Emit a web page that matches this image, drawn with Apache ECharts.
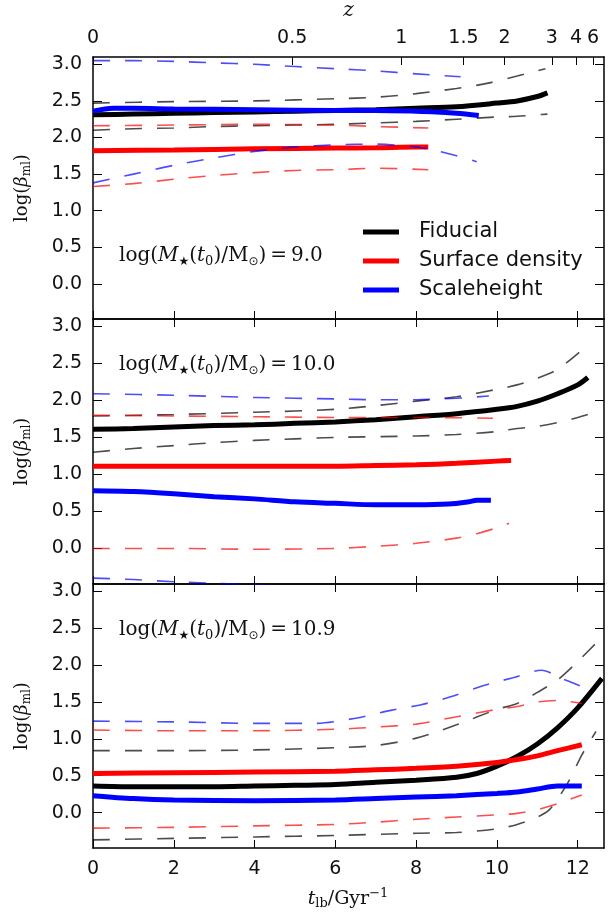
<!DOCTYPE html>
<html><head><meta charset="utf-8">
<script src="https://cdn.jsdelivr.net/npm/echarts@6/dist/echarts.min.js"></script>
<style>html,body{margin:0;padding:0;background:#fff}#c{width:608px;height:922px}</style>
</head><body><div id="c"></div>
<script>
// ---- tick labels ----
const tTicks = [0, 2, 4, 6, 8, 10, 12];
const yTicks = [0, 0.5, 1, 1.5, 2, 2.5, 3];
const zLabels = ['0', '0.5', '1', '1.5', '2', '3', '4', '6'];
const zPos = [0, 4.93, 7.63, 9.17, 10.19, 11.36, 11.96, 12.38];
const panelLabels = ['9.0', '10.0', '10.9'];
const legendNames = ['Fiducial', 'Surface density', 'Scaleheight'];

// ---- Panel 1: log(M*(t0)/Msun) = 9.0 ----
const p1_fid_t = [0, 1, 2, 3, 4, 5, 6, 7, 8, 9, 10, 10.5, 11, 11.25];
const p1_fid_y = [2.31, 2.32, 2.33, 2.34, 2.35, 2.36, 2.37, 2.38, 2.40, 2.42, 2.47, 2.50, 2.56, 2.61];
const p1_fidHi_t = [0, 2, 4, 6, 7, 8, 9, 9.75, 10.5, 11.2];
const p1_fidHi_y = [2.47, 2.49, 2.50, 2.53, 2.55, 2.60, 2.67, 2.74, 2.84, 2.94];
const p1_fidLo_t = [0, 1, 2, 3, 4, 5, 6, 7, 8, 9, 10, 10.5, 11, 11.25];
const p1_fidLo_y = [2.10, 2.12, 2.13, 2.15, 2.16, 2.17, 2.18, 2.20, 2.22, 2.25, 2.28, 2.29, 2.31, 2.32];
const p1_sd_t = [0, 2, 4, 6, 7, 8, 8.3];
const p1_sd_y = [1.82, 1.83, 1.845, 1.855, 1.86, 1.87, 1.87];
const p1_sdHi_t = [0, 2, 4, 6, 7, 8.3];
const p1_sdHi_y = [2.16, 2.17, 2.18, 2.17, 2.15, 2.13];
const p1_sdLo_t = [0, 1, 2, 3, 4, 5, 6, 7, 8.3];
const p1_sdLo_y = [1.33, 1.37, 1.43, 1.48, 1.52, 1.55, 1.56, 1.58, 1.56];
const p1_sh_t = [0, 0.5, 1, 2, 4, 6, 7, 8, 8.5, 9, 9.55];
const p1_sh_y = [2.36, 2.40, 2.40, 2.39, 2.38, 2.37, 2.37, 2.36, 2.35, 2.33, 2.30];
const p1_shHi_t = [0, 1, 2, 3, 4, 5, 6, 7, 8, 9.1];
const p1_shHi_y = [3.05, 3.05, 3.04, 3.02, 3.00, 2.97, 2.94, 2.91, 2.87, 2.83];
const p1_shLo_t = [0, 1, 2, 3, 4, 5, 6, 7, 8, 8.5, 9, 9.5];
const p1_shLo_y = [1.38, 1.50, 1.62, 1.72, 1.81, 1.87, 1.90, 1.91, 1.87, 1.82, 1.75, 1.67];

// ---- Panel 2: 10.0 ----
const p2_fid_t = [0, 1, 2, 3, 4, 5, 6, 7, 8, 9, 10, 10.5, 11, 11.5, 12, 12.25];
const p2_fid_y = [1.61, 1.62, 1.64, 1.66, 1.67, 1.69, 1.71, 1.74, 1.78, 1.82, 1.88, 1.92, 1.99, 2.09, 2.21, 2.31];
const p2_fidHi_t = [0, 2, 4, 6, 7, 8, 9, 10, 10.5, 11, 11.5, 12.1];
const p2_fidHi_y = [1.79, 1.81, 1.84, 1.88, 1.93, 1.99, 2.05, 2.15, 2.21, 2.30, 2.42, 2.68];
const p2_fidLo_t = [0, 1, 2, 3, 4, 5, 6, 8, 9, 10, 10.5, 11, 11.5, 12, 12.25];
const p2_fidLo_y = [1.30, 1.35, 1.39, 1.43, 1.46, 1.48, 1.50, 1.52, 1.54, 1.58, 1.62, 1.65, 1.70, 1.77, 1.81];
const p2_sd_t = [0, 2, 4, 6, 7, 8, 9, 10, 10.35];
const p2_sd_y = [1.11, 1.11, 1.11, 1.11, 1.12, 1.13, 1.15, 1.18, 1.19];
const p2_sdHi_t = [0, 2, 4, 6, 8, 9.9];
const p2_sdHi_y = [1.80, 1.79, 1.78, 1.77, 1.77, 1.76];
const p2_sdLo_t = [0, 2, 4, 6, 7, 8, 9, 9.5, 10, 10.3];
const p2_sdLo_y = [0.00, 0.00, -0.01, 0.00, 0.03, 0.07, 0.14, 0.20, 0.28, 0.34];
const p2_sh_t = [0, 1, 2, 3, 4, 5, 6, 7, 8, 8.8, 9.3, 9.5, 9.85];
const p2_sh_y = [0.78, 0.77, 0.74, 0.70, 0.67, 0.63, 0.61, 0.59, 0.59, 0.60, 0.63, 0.65, 0.65];
const p2_shHi_t = [0, 2, 4, 6, 7, 8, 9, 9.8];
const p2_shHi_y = [2.09, 2.07, 2.04, 2.02, 2.01, 2.01, 2.03, 2.06];
const p2_shLo_t = [0, 1, 2, 3, 4, 5, 6, 7];
const p2_shLo_y = [-0.40, -0.42, -0.45, -0.47, -0.49, -0.51, -0.53, -0.55];

// ---- Panel 3: 10.9 ----
const p3_fid_t = [0, 1, 2, 3, 4, 5, 6, 7, 8, 9, 9.5, 10, 10.5, 11, 11.5, 12, 12.6];
const p3_fid_y = [0.36, 0.35, 0.35, 0.35, 0.36, 0.37, 0.38, 0.41, 0.44, 0.48, 0.53, 0.63, 0.76, 0.93, 1.15, 1.42, 1.82];
const p3_fidHi_t = [0, 2, 4, 6, 7, 8, 9, 10, 10.5, 11, 11.5, 12, 12.6];
const p3_fidHi_y = [0.84, 0.84, 0.85, 0.88, 0.91, 1.01, 1.19, 1.40, 1.48, 1.63, 1.80, 2.05, 2.38];
const p3_fidLo_t = [0, 2, 4, 6, 8, 9, 10, 10.5, 11, 11.3, 11.75, 12.1, 12.45];
const p3_fidLo_y = [-0.37, -0.35, -0.33, -0.31, -0.28, -0.27, -0.22, -0.16, -0.06, 0.04, 0.40, 0.78, 1.10];
const p3_sd_t = [0, 2, 4, 6, 7, 8, 9, 10, 10.5, 11, 11.5, 12.1];
const p3_sd_y = [0.53, 0.54, 0.55, 0.56, 0.58, 0.60, 0.63, 0.68, 0.72, 0.77, 0.84, 0.92];
const p3_sdHi_t = [0, 2, 4, 6, 7, 8, 9, 10, 10.5, 11, 11.5, 12.1];
const p3_sdHi_y = [1.12, 1.11, 1.11, 1.13, 1.16, 1.20, 1.30, 1.40, 1.44, 1.50, 1.52, 1.48];
const p3_sdLo_t = [0, 2, 4, 6, 7, 8, 9, 10, 10.5, 11, 11.5, 12.1];
const p3_sdLo_y = [-0.21, -0.20, -0.18, -0.16, -0.13, -0.09, -0.06, -0.03, -0.01, 0.04, 0.12, 0.24];
const p3_sh_t = [0, 1, 2, 4, 6, 7, 8, 9, 10, 10.5, 11, 11.5, 12.1];
const p3_sh_y = [0.23, 0.19, 0.17, 0.16, 0.17, 0.19, 0.21, 0.23, 0.26, 0.28, 0.32, 0.36, 0.36];
const p3_shHi_t = [0, 2, 4, 5.5, 6.5, 7.4, 8.1, 8.85, 9.65, 10.4, 11.1, 11.6, 12.05];
const p3_shHi_y = [1.24, 1.23, 1.21, 1.21, 1.28, 1.39, 1.46, 1.57, 1.72, 1.83, 1.93, 1.82, 1.72];

// ---- build ----
const SANS = 'DejaVu Sans';
const SERIF = 'DejaVu Serif';
const TXT = '#111';
const frame = {color: '#000', width: 1.5};
const grids = [
  {left: 93, top: 56, width: 511, height: 263},
  {left: 93, top: 319, width: 511, height: 265},
  {left: 93, top: 584, width: 511, height: 264}
];
const XMAX = 12.65, YMIN = -0.48, YMAX = 3.1;

function xAx(gi, pos, tickVals, showLab, extra) {
  return Object.assign({
    type: 'value', gridIndex: gi, position: pos, min: 0, max: XMAX,
    axisLine: {show: true, onZero: false, lineStyle: frame},
    axisTick: {show: true, inside: true, length: 8, customValues: tickVals, lineStyle: {color: '#000', width: 1}},
    axisLabel: {show: showLab, customValues: tickVals, fontSize: 19, fontFamily: SANS, color: TXT, margin: 12},
    splitLine: {show: false}
  }, extra || {});
}
function yAx(gi, pos, showLab, extra) {
  return Object.assign({
    type: 'value', gridIndex: gi, position: pos, min: YMIN, max: YMAX,
    axisLine: {show: true, onZero: false, lineStyle: frame},
    axisTick: {show: true, inside: true, length: 9, customValues: yTicks, lineStyle: {color: '#000', width: 1}},
    axisLabel: {show: showLab, customValues: yTicks, fontSize: 19, fontFamily: SANS, color: TXT, margin: 11,
      formatter: v => v.toFixed(1)},
    splitLine: {show: false}
  }, extra || {});
}
const mathRich = (fs) => ({
  n: {fontSize: fs, fontFamily: SERIF, color: TXT, fill: TXT, lineHeight: fs + 4},
  i: {fontSize: fs, fontFamily: SERIF, fontStyle: 'italic', color: TXT, fill: TXT, lineHeight: fs + 4},
  s: {fontSize: Math.round(fs * 0.66), fontFamily: SERIF, color: TXT, fill: TXT, lineHeight: Math.round(fs * 0.6), verticalAlign: 'bottom'},
  si: {fontSize: Math.round(fs * 0.6), fontFamily: 'DejaVu Sans', color: TXT, fill: TXT, lineHeight: Math.round(fs * 0.6), verticalAlign: 'bottom'},
  sup: {fontSize: Math.round(fs * 0.66), fontFamily: SERIF, color: TXT, fill: TXT, lineHeight: Math.round(fs * 0.6), verticalAlign: 'top'}
});
const ylabName = '{n|log(}{i|β}{s|ml}{n|)}';
const zFmt = v => {
  let k = 0, best = 1e9;
  zPos.forEach((p, i) => { const d = Math.abs(p - v); if (d < best) { best = d; k = i; } });
  return zLabels[k];
};

const xAxis = [
  xAx(0, 'bottom', tTicks, false),
  xAx(0, 'top', zPos, true, {
    axisLabel: {show: true, customValues: zPos, fontSize: 19, fontFamily: SANS, color: TXT, margin: 9, formatter: zFmt},
    name: 'z', nameLocation: 'middle', nameGap: 36,
    nameTextStyle: {fontFamily: SERIF, fontStyle: 'italic', fontSize: 20, color: TXT}
  }),
  xAx(1, 'bottom', tTicks, false),
  xAx(1, 'top', tTicks, false),
  xAx(2, 'bottom', tTicks, true),
  xAx(2, 'top', tTicks, false)
];
const yAxis = [];
for (let g = 0; g < 3; g++) {
  yAxis.push(yAx(g, 'left', true, {
    name: ylabName, nameLocation: 'middle', nameRotate: 90, nameGap: 60,
    nameTextStyle: {rich: mathRich(18)}
  }));
  yAxis.push(yAx(g, 'right', false));
}

const COL = {fid: '#000000', sd: '#ff0000', sh: '#0000ff'};
const DCOL = {fid: 'rgba(0,0,0,0.7)', sd: 'rgba(255,0,0,0.7)', sh: 'rgba(0,0,255,0.7)'};
function zip(t, y) { return t.map((v, i) => [v, y[i]]); }
function solid(g, name, key, t, y) {
  return {type: 'line', name: name, xAxisIndex: 2 * g, yAxisIndex: 2 * g, data: zip(t, y),
    showSymbol: false, symbol: 'none', smooth: 0.3, color: COL[key],
    lineStyle: {color: COL[key], width: 5, cap: 'butt'}, z: 3, silent: true};
}
function dashed(g, key, t, y) {
  return {type: 'line', name: key + '_band_' + g, xAxisIndex: 2 * g, yAxisIndex: 2 * g, data: zip(t, y),
    showSymbol: false, symbol: 'none', smooth: 0.3, color: DCOL[key],
    lineStyle: {color: DCOL[key], width: 1.6, type: [17, 15]}, z: 3, silent: true};
}
const series = [
  solid(0, legendNames[0], 'fid', p1_fid_t, p1_fid_y),
  dashed(0, 'fid', p1_fidHi_t, p1_fidHi_y), dashed(0, 'fid', p1_fidLo_t, p1_fidLo_y),
  solid(0, legendNames[1], 'sd', p1_sd_t, p1_sd_y),
  dashed(0, 'sd', p1_sdHi_t, p1_sdHi_y), dashed(0, 'sd', p1_sdLo_t, p1_sdLo_y),
  solid(0, legendNames[2], 'sh', p1_sh_t, p1_sh_y),
  dashed(0, 'sh', p1_shHi_t, p1_shHi_y), dashed(0, 'sh', p1_shLo_t, p1_shLo_y),

  solid(1, 'Fiducial 2', 'fid', p2_fid_t, p2_fid_y),
  dashed(1, 'fid', p2_fidHi_t, p2_fidHi_y), dashed(1, 'fid', p2_fidLo_t, p2_fidLo_y),
  solid(1, 'Surface density 2', 'sd', p2_sd_t, p2_sd_y),
  dashed(1, 'sd', p2_sdHi_t, p2_sdHi_y), dashed(1, 'sd', p2_sdLo_t, p2_sdLo_y),
  solid(1, 'Scaleheight 2', 'sh', p2_sh_t, p2_sh_y),
  dashed(1, 'sh', p2_shHi_t, p2_shHi_y), dashed(1, 'sh', p2_shLo_t, p2_shLo_y),

  solid(2, 'Fiducial 3', 'fid', p3_fid_t, p3_fid_y),
  dashed(2, 'fid', p3_fidHi_t, p3_fidHi_y), dashed(2, 'fid', p3_fidLo_t, p3_fidLo_y),
  solid(2, 'Surface density 3', 'sd', p3_sd_t, p3_sd_y),
  dashed(2, 'sd', p3_sdHi_t, p3_sdHi_y), dashed(2, 'sd', p3_sdLo_t, p3_sdLo_y),
  solid(2, 'Scaleheight 3', 'sh', p3_sh_t, p3_sh_y),
  dashed(2, 'sh', p3_shHi_t, p3_shHi_y)
];

const annY = [256, 365, 630];
const graphic = panelLabels.map((lab, i) => ({
  type: 'text', x: 119, y: annY[i], silent: true,
  style: {
    text: '{n|log(}{i|M}{si|★}{n|(}{i|t}{s|0}{n|)/M}{si|⊙}{n|)\u2009=\u2009' + lab + '}',
    rich: mathRich(20), verticalAlign: 'middle', align: 'left'
  }
}));
graphic.push({
  type: 'text', x: 348, y: 899, silent: true,
  style: {text: '{i|t}{s|lb}{n|/Gyr}{sup|−1}', rich: mathRich(19), verticalAlign: 'middle', align: 'center'}
});

const chart = echarts.init(document.getElementById('c'), null, {renderer: 'canvas'});
chart.setOption({
  animation: false,
  backgroundColor: '#fff',
  grid: grids,
  xAxis: xAxis,
  yAxis: yAxis,
  legend: {
    data: legendNames, orient: 'vertical', left: 363, top: 221, icon: 'rect',
    itemWidth: 36, itemHeight: 5, itemGap: 7, padding: 0, selectedMode: false,
    textStyle: {fontSize: 21, fontFamily: SANS, color: TXT, lineHeight: 22, padding: [0, 0, 0, 15]}
  },
  graphic: graphic,
  series: series
});
</script></body></html>
